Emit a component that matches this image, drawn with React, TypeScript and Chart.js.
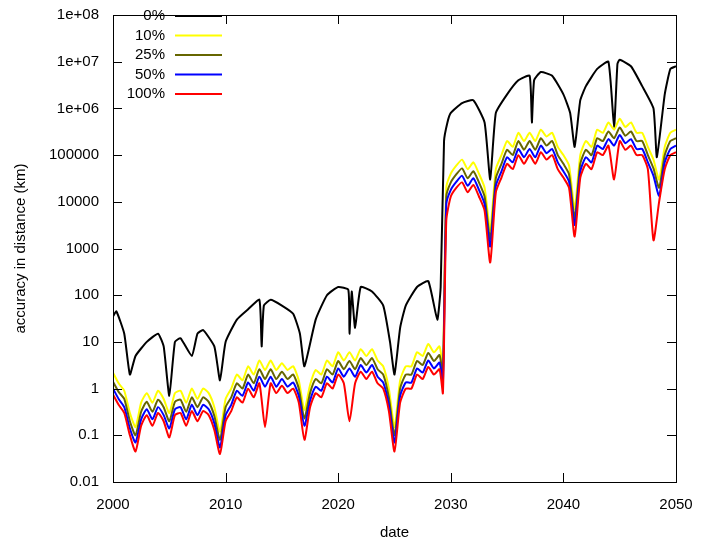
import { useEffect, useRef } from "react";
import Chart from "chart.js/auto";

const blackX = [2000, 2000.3, 2001, 2001.5, 2002, 2003, 2004, 2004.5, 2005, 2005.5, 2006, 2007, 2007.5, 2008, 2009, 2009.5, 2010, 2011, 2012, 2013, 2013.2, 2013.4, 2014, 2015, 2016, 2016.6, 2017, 2018, 2019, 2020, 2020.9, 2021, 2021.2, 2021.5, 2022, 2023, 2024, 2024.6, 2025, 2025.5, 2026, 2027, 2028, 2028.8, 2029.1, 2029.4, 2029.7, 2030, 2031, 2032, 2033, 2033.5, 2034, 2035, 2036, 2037, 2037.2, 2037.4, 2038, 2039, 2040, 2040.6, 2041, 2041.5, 2042, 2043, 2044, 2044.5, 2044.8, 2045, 2046, 2047, 2048, 2048.3, 2049, 2049.5, 2050];
const black = [35, 45, 15, 2, 5, 10, 15, 8, 0.7, 10, 12, 5, 15, 18, 8, 1.5, 10, 30, 50, 80, 8, 60, 80, 60, 40, 15, 3, 30, 100, 150, 130, 15, 120, 20, 150, 120, 60, 10, 2, 20, 60, 150, 200, 30, 150, 2e5, 5e5, 8e5, 1.3e6, 1.5e6, 5e5, 3e4, 8e5, 2e6, 4e6, 5e6, 5e5, 4e6, 6e6, 5e6, 2e6, 8e5, 1.5e5, 1.5e6, 3e6, 7e6, 1e7, 4e5, 9e6, 1.1e7, 8e6, 3e6, 1e6, 9e4, 2e6, 7e6, 8e6];

const lowX = [
  2000, 2000.5, 2001, 2001.5, 2002, 2002.5, 2003, 2003.5, 2004, 2004.5, 2005, 2005.5, 2006, 2006.5, 2007, 2007.5, 2008, 2008.5, 2009, 2009.5,
  2010, 2010.5, 2011, 2011.5, 2012, 2012.5, 2013, 2013.5, 2014, 2014.5, 2015, 2015.5, 2016, 2016.5, 2017, 2017.5, 2018, 2018.5, 2019, 2019.5,
  2020, 2020.5, 2021, 2021.5, 2022, 2022.5, 2023, 2023.5, 2024, 2024.5, 2025, 2025.5, 2026, 2026.5, 2027, 2027.5, 2028, 2028.5, 2029, 2029.3,
  2029.6, 2030, 2030.5, 2031, 2031.5, 2032, 2032.5, 2033, 2033.5, 2034, 2034.5, 2035, 2035.5, 2036, 2036.5, 2037, 2037.5, 2038, 2038.5, 2039,
  2039.5, 2040, 2040.5, 2041, 2041.5, 2042, 2042.5, 2043, 2043.5, 2044, 2044.5, 2045, 2045.5, 2046, 2046.5, 2047, 2047.5, 2048, 2048.5, 2049,
  2049.5, 2050,
];
const yellow = [
  2.2, 1.3, 0.9, 0.3, 0.15, 0.5, 0.8, 0.5, 0.9, 0.6, 0.3, 0.8, 0.9, 0.5, 1.0, 0.6, 1.0, 0.8, 0.4, 0.12,
  0.6, 1.0, 2.0, 1.5, 3.0, 2.0, 4.0, 2.5, 4.0, 2.5, 3.5, 2.5, 3.0, 1.5, 0.35, 1.2, 2.5, 2.0, 4.0, 3.0,
  6.0, 4.0, 6.0, 4.0, 7.0, 5.0, 7.0, 4.0, 3.0, 1.0, 0.15, 1.5, 3.0, 3.0, 6.0, 5.0, 9.0, 6.0, 8.0, 3.0,
  2e4, 4e4, 6e4, 8e4, 5e4, 7e4, 4e4, 2e4, 2500, 5e4, 1e5, 2e5, 1.5e5, 3e5, 2e5, 3e5, 2e5, 3.5e5, 2.5e5, 3e5,
  1.5e5, 1e5, 6e4, 7000, 1e5, 2e5, 1.5e5, 3.5e5, 3e5, 5e5, 3.5e5, 6e5, 4e5, 5e5, 3e5, 3e5, 1.5e5, 8e4, 3e4, 1.5e5,
  3e5, 3.5e5,
];
const olive = [
  1.4, 0.85, 0.6, 0.2, 0.1, 0.32, 0.52, 0.32, 0.58, 0.4, 0.2, 0.52, 0.58, 0.32, 0.65, 0.4, 0.65, 0.52, 0.26, 0.08,
  0.4, 0.65, 1.3, 1.0, 2.0, 1.3, 2.6, 1.6, 2.6, 1.6, 2.3, 1.6, 2.0, 1.0, 0.23, 0.8, 1.6, 1.3, 2.6, 2.0,
  3.9, 2.6, 3.9, 2.6, 4.5, 3.2, 4.5, 2.6, 2.0, 0.65, 0.1, 1.0, 2.0, 2.0, 3.9, 3.2, 5.8, 3.9, 5.2, 2.0,
  1.3e4, 2.6e4, 3.9e4, 5.2e4, 3.2e4, 4.5e4, 2.6e4, 1.3e4, 1600, 3.2e4, 6.5e4, 1.3e5, 1e5, 2e5, 1.3e5, 2e5, 1.3e5, 2.3e5, 1.6e5, 2e5,
  1e5, 6.5e4, 3.9e4, 4500, 6.5e4, 1.3e5, 1e5, 2.3e5, 2e5, 3.2e5, 2.3e5, 3.9e5, 2.6e5, 3.2e5, 2e5, 2e5, 1e5, 5.2e4, 2e4, 1e5,
  2e5, 2.3e5,
];
const blue = [
  1.0, 0.6, 0.4, 0.14, 0.07, 0.22, 0.36, 0.22, 0.4, 0.27, 0.14, 0.36, 0.4, 0.22, 0.45, 0.27, 0.45, 0.36, 0.18, 0.055,
  0.27, 0.45, 0.9, 0.7, 1.35, 0.9, 1.8, 1.1, 1.8, 1.1, 1.6, 1.1, 1.35, 0.7, 0.16, 0.55, 1.1, 0.9, 1.8, 1.35,
  2.7, 1.8, 2.7, 1.8, 3.2, 2.2, 3.2, 1.8, 1.35, 0.45, 0.07, 0.7, 1.35, 1.35, 2.7, 2.2, 4.0, 2.7, 3.6, 1.35,
  9000, 1.8e4, 2.7e4, 3.6e4, 2.2e4, 3.2e4, 1.8e4, 9000, 1100, 2.2e4, 4.5e4, 9e4, 7e4, 1.35e5, 9e4, 1.35e5, 9e4, 1.6e5, 1.1e5, 1.35e5,
  7e4, 4.5e4, 2.7e4, 3200, 4.5e4, 9e4, 7e4, 1.6e5, 1.35e5, 2.2e5, 1.6e5, 2.7e5, 1.8e5, 2.2e5, 1.35e5, 1.35e5, 7e4, 3.6e4, 1.35e4, 7e4,
  1.35e5, 1.6e5,
];
const red = [
  0.75, 0.45, 0.3, 0.1, 0.045, 0.16, 0.27, 0.16, 0.3, 0.2, 0.09, 0.27, 0.3, 0.16, 0.33, 0.2, 0.33, 0.27, 0.13, 0.04,
  0.2, 0.33, 0.65, 0.5, 1.0, 0.65, 1.3, 0.15, 1.3, 0.8, 1.15, 0.8, 1.0, 0.5, 0.08, 0.4, 0.8, 0.65, 1.3, 1.0,
  2.0, 1.3, 0.2, 1.3, 2.3, 1.6, 2.3, 1.3, 1.0, 0.33, 0.045, 0.5, 1.0, 1.0, 2.0, 1.6, 2.9, 2.0, 2.6, 0.8,
  4000, 1.3e4, 2e4, 2.6e4, 1.6e4, 2.3e4, 1.3e4, 6500, 500, 1.6e4, 3.3e4, 6.5e4, 5e4, 1e5, 6.5e4, 1e5, 6.5e4, 1.15e5, 8e4, 1e5,
  5e4, 3.3e4, 2e4, 1800, 3.3e4, 6.5e4, 5e4, 1.15e5, 1e5, 1.6e5, 3e4, 2e5, 1.3e5, 1.6e5, 1e5, 1e5, 5e4, 1500, 1e4, 5e4,
  1e5, 1.15e5,
];

const seriesNames = ["0%", "10%", "25%", "50%", "100%"];
const seriesColors = ["#000000", "#ffff00", "#666600", "#0000ff", "#ff0000"];
const xTicks = [2000, 2010, 2020, 2030, 2040, 2050];
const yTicks = [0.01, 0.1, 1, 10, 100, 1000, 10000, 100000, 1e6, 1e7, 1e8];
const yLabels = ["0.01", "0.1", "1", "10", "100", "1000", "10000", "100000", "1e+06", "1e+07", "1e+08"];

const zip = (xs: number[], ys: number[]) => xs.map((x, i) => ({ x, y: ys[i] }));
const FONT = "'Liberation Sans', Arial, sans-serif";

const framePlugin = {
  id: "frame",
  afterDatasetsDraw(chart: any) {
    const { ctx, chartArea: a, scales } = chart;
    ctx.save();
    ctx.strokeStyle = "#000";
    ctx.lineWidth = 1;
    ctx.strokeRect(a.left + 0.5, a.top + 0.5, a.right - a.left, a.bottom - a.top);
    ctx.beginPath();
    xTicks.forEach((t) => {
      const px = Math.round(scales.x.getPixelForValue(t)) + 0.5;
      ctx.moveTo(px, a.bottom); ctx.lineTo(px, a.bottom - 9);
      ctx.moveTo(px, a.top); ctx.lineTo(px, a.top + 9);
    });
    yTicks.forEach((t) => {
      const py = Math.round(scales.y.getPixelForValue(t)) + 0.5;
      ctx.moveTo(a.left, py); ctx.lineTo(a.left + 9, py);
      ctx.moveTo(a.right, py); ctx.lineTo(a.right - 9, py);
    });
    ctx.stroke();
    // legend
    ctx.font = "15px " + FONT;
    ctx.textAlign = "right";
    ctx.textBaseline = "middle";
    seriesNames.forEach((n, i) => {
      const y = 16 + i * 19.5;
      ctx.fillStyle = "#000";
      ctx.fillText(n, 165, y);
      ctx.strokeStyle = seriesColors[i];
      ctx.lineWidth = 2;
      ctx.beginPath();
      ctx.moveTo(175, y); ctx.lineTo(222, y);
      ctx.stroke();
    });
    ctx.restore();
  },
};

export default function App() {
  const canvasRef = useRef<HTMLCanvasElement>(null);
  const chartRef = useRef<Chart | null>(null);

  useEffect(() => {
    document.body.style.margin = "0";
    if (!canvasRef.current) return;
    chartRef.current?.destroy();
    const lows = [yellow, olive, blue, red];
    chartRef.current = new Chart(canvasRef.current, {
      type: "line",
      data: {
        datasets: [
          { label: seriesNames[0], data: zip(blackX, black), borderColor: seriesColors[0], borderWidth: 2, pointRadius: 0, tension: 0.15 },
          ...lows.map((v, i) => ({
            label: seriesNames[i + 1], data: zip(lowX, v), borderColor: seriesColors[i + 1], borderWidth: 2, pointRadius: 0, tension: 0.2,
          })),
        ].reverse(),
      },
      plugins: [framePlugin],
      options: {
        animation: false,
        responsive: false,
        layout: { padding: { top: 10, right: 42, left: 8, bottom: 0 } },
        plugins: { legend: { display: false }, tooltip: { enabled: false } },
        scales: {
          x: {
            type: "linear", min: 2000, max: 2050,
            afterBuildTicks: (s: any) => { s.ticks = xTicks.map((v) => ({ value: v })); },
            afterFit: (s: any) => { s.height = 64; },
            grid: { display: false }, border: { display: false },
            ticks: { color: "#000", padding: 6, font: { size: 15, family: FONT }, callback: (v: any) => String(v) },
            title: { display: true, text: "date", color: "#000", padding: { top: 8 }, font: { size: 15, family: FONT } },
          },
          y: {
            type: "logarithmic", min: 0.01, max: 1e8,
            afterBuildTicks: (s: any) => { s.ticks = yTicks.map((v) => ({ value: v })); },
            afterFit: (s: any) => { s.width = 105; },
            grid: { display: false }, border: { display: false },
            ticks: {
              color: "#000", padding: 6, font: { size: 15, family: FONT },
              callback: (v: any) => yLabels[yTicks.indexOf(Number(v))] ?? "",
            },
            title: { display: true, text: "accuracy in distance (km)", color: "#000", padding: { bottom: 4 }, font: { size: 15, family: FONT } },
          },
        },
      },
    });
    return () => { chartRef.current?.destroy(); };
  }, []);

  return <canvas ref={canvasRef} width={718} height={546} style={{ display: "block" }} />;
}
